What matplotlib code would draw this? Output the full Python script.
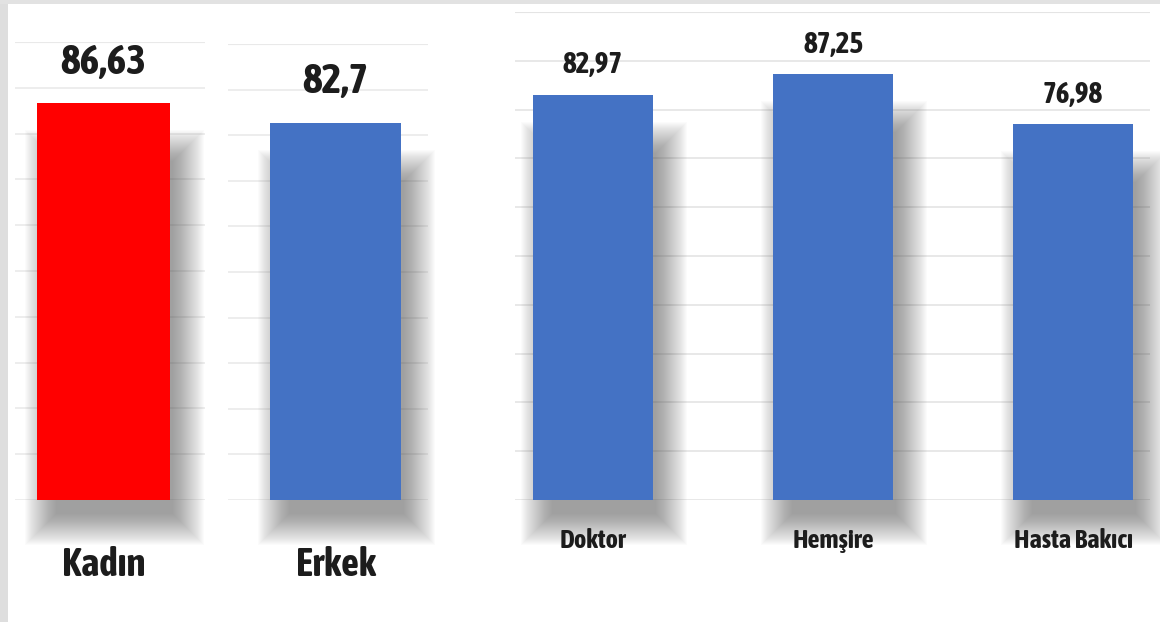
import matplotlib
matplotlib.use('Agg')
import os
import matplotlib.pyplot as plt
from matplotlib import font_manager
from matplotlib.font_manager import FontProperties
from matplotlib.patches import Rectangle

# Cinsiyete göre puanlar
cinsiyet = ['Kadın', 'Erkek']
cinsiyet_puan = [86.63, 82.7]
cinsiyet_renk = ['#ff0000', '#4472c4']

# Mesleğe göre puanlar
meslek = ['Doktor', 'Hemşire', 'Hasta Bakıcı']
meslek_puan = [82.97, 87.25, 76.98]
meslek_renk = '#4472c4'

y_ticks = list(range(0, 101, 10))


def pick_font():
    # a narrow bold face if one is installed, otherwise Roboto Bold
    files = sorted({f.fname for f in font_manager.fontManager.ttflist})
    narrow = []
    for fn in files:
        base = os.path.basename(fn).lower()
        if ('condensed' in base or 'narrow' in base) and 'bold' in base:
            if any(w in base for w in ['extra', 'semi', 'italic', 'oblique', 'dejavu']):
                continue
            narrow.append(fn)
    if narrow:
        return narrow[0], True
    return None, False


FONT_FILE, IS_NARROW = pick_font()
SCALE = 1.0 if IS_NARROW else 0.82


def fp(size):
    if FONT_FILE:
        return FontProperties(fname=FONT_FILE, size=size)
    return FontProperties(family=['Roboto', 'DejaVu Sans'], weight='bold', size=size * SCALE)


W, H = 1160, 622
fig = plt.figure(figsize=(W / 100, H / 100), dpi=100)
fig.patch.set_facecolor('white')


def px_axes(x0, x1, ytop, ybot):
    return fig.add_axes([x0 / W, 1 - ybot / H, (x1 - x0) / W, (ybot - ytop) / H])


def draw_shadow(ax, x, w, h, dx=11, dy=22, layers=32, step=1.0, alpha=0.02):
    # soft drop shadow built from stacked translucent rectangles
    bbox = ax.get_window_extent()
    xl = ax.get_xlim()
    yl = ax.get_ylim()
    sx = bbox.width / (xl[1] - xl[0])
    sy = bbox.height / (yl[1] - yl[0])
    for k in range(layers):
        g = k * step
        r = Rectangle((x - w / 2 + (dx + 8 - g) / sx, (-dy + 8 - g) / sy),
                      w - 16 / sx + 2 * g / sx, h - 16 / sy + 2 * g / sy - 28 / sy,
                      facecolor='#4a4a4a', edgecolor='none', alpha=alpha,
                      zorder=1, clip_on=False)
        ax.add_patch(r)


def style_axes(ax, grid_color, top_color):
    ax.set_ylim(0, 100)
    ax.set_yticks(y_ticks)
    ax.set_yticklabels([])
    ax.tick_params(axis='both', length=0)
    for s in ax.spines.values():
        s.set_visible(False)
    ax.set_facecolor('none')
    ax.set_axisbelow(True)
    ax.grid(axis='y', color=grid_color, lw=1.3)
    ax.grid(axis='x', visible=False)
    ax.axhline(100, color=top_color, lw=1.5, zorder=0)


TXT = '#1c1c1c'

# sol panel: iki ayrı grafik
left_axes = [px_axes(15, 205, 42, 500), px_axes(228, 428, 44, 500)]
left_xlim = [(-0.466, 0.534), (-0.5375, 0.4625)]
left_width = [0.70, 0.655]

for i, ax in enumerate(left_axes):
    style_axes(ax, '#ececec', '#d2d2d2')
    ax.set_xlim(*left_xlim[i])
    draw_shadow(ax, 0, left_width[i], cinsiyet_puan[i])
    ax.bar([0], [cinsiyet_puan[i]], width=left_width[i], color=cinsiyet_renk[i], zorder=3)
    ax.text(0, cinsiyet_puan[i] + 4.5, str(cinsiyet_puan[i]).replace('.', ','),
            ha='center', va='bottom', color=TXT, fontproperties=fp(30))
    ax.set_xticks([0])
    ax.set_xticklabels([cinsiyet[i]], color=TXT, fontproperties=fp(28))
    ax.tick_params(axis='x', pad=33)

# sağ panel: meslek
ax3 = px_axes(515, 1150, 12, 500)
style_axes(ax3, '#e6e6e6', '#d9d9d9')
ax3.set_xlim(-0.325, 2.32)
xs = list(range(len(meslek)))
for x, v in zip(xs, meslek_puan):
    draw_shadow(ax3, x, 0.5, v)
ax3.bar(xs, meslek_puan, width=0.5, color=meslek_renk, zorder=3)
for x, v in zip(xs, meslek_puan):
    ax3.text(x, v + 3.2, str(v).replace('.', ','), ha='center', va='bottom',
             color=TXT, fontproperties=fp(21))
ax3.set_xticks(xs)
ax3.set_xticklabels(meslek, color=TXT, fontproperties=fp(19))
ax3.tick_params(axis='x', pad=20)

# gri çerçeve kenarları
fig.patches.append(Rectangle((0, 0), 8 / W, 1, transform=fig.transFigure,
                             facecolor='#dedede', edgecolor='none', zorder=-1))
fig.patches.append(Rectangle((0, 1 - 4 / H), 1, 4 / H, transform=fig.transFigure,
                             facecolor='#e2e2e2', edgecolor='none', zorder=-1))

fig.savefig('out.png', dpi=100)
